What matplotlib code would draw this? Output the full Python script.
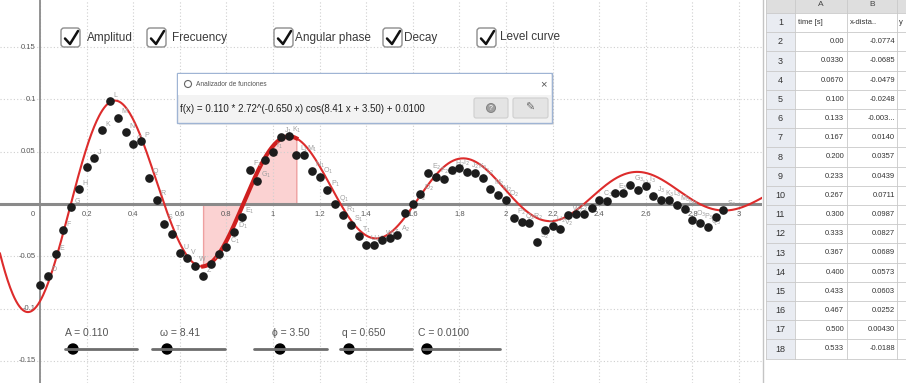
import numpy as np
import matplotlib
matplotlib.use("Agg")
import matplotlib.pyplot as plt
from matplotlib.patches import Rectangle, FancyBboxPatch, Circle

plt.rcParams['font.family'] = ['Liberation Sans', 'DejaVu Sans']

# fitted model parameters (slider values)
amp = 0.110
omega = 8.41
phase = 3.50
decay = 0.650
offset = 0.0100

# measured points: time [s] and x-distance [m]
time_s = [0.000, 0.033, 0.067, 0.100, 0.133, 0.167, 0.200, 0.233, 0.267, 0.300,
          0.333, 0.367, 0.400, 0.433, 0.467, 0.500, 0.533, 0.567, 0.600, 0.633,
          0.667, 0.700, 0.733, 0.767, 0.800, 0.833, 0.867, 0.900, 0.933, 0.967,
          1.000, 1.033, 1.067, 1.100, 1.133, 1.167, 1.200, 1.233, 1.267, 1.300,
          1.333, 1.367, 1.400, 1.433, 1.467, 1.500, 1.533, 1.567, 1.600, 1.633,
          1.667, 1.700, 1.733, 1.767, 1.800, 1.833, 1.867, 1.900, 1.933, 1.967,
          2.000, 2.033, 2.067, 2.100, 2.133, 2.167, 2.200, 2.233, 2.267, 2.300,
          2.333, 2.367, 2.400, 2.433, 2.467, 2.500, 2.533, 2.567, 2.600, 2.633,
          2.667, 2.700, 2.733, 2.767, 2.800, 2.833, 2.867, 2.900, 2.933]
x_dist = [-0.0774, -0.0685, -0.0479, -0.0248, -0.0030, 0.0140, 0.0357, 0.0439, 0.0711, 0.0987,
          0.0827, 0.0689, 0.0573, 0.0603, 0.0252, 0.0043, -0.0188, -0.029, -0.047, -0.052,
          -0.059, -0.069, -0.057, -0.048, -0.041, -0.027, -0.012, 0.033, 0.022, 0.042,
          0.050, 0.064, 0.065, 0.047, 0.047, 0.032, 0.026, 0.013, 0.000, -0.011,
          -0.020, -0.031, -0.039, -0.039, -0.034, -0.033, -0.030, -0.009, 0.000, 0.010,
          0.030, 0.026, 0.024, 0.033, 0.034, 0.031, 0.030, 0.025, 0.014, 0.009,
          0.004, -0.013, -0.017, -0.018, -0.036, -0.025, -0.021, -0.024, -0.011, -0.010,
          -0.010, -0.004, 0.004, 0.003, 0.011, 0.011, 0.018, 0.013, 0.017, 0.008,
          0.004, 0.004, -0.001, -0.005, -0.015, -0.018, -0.022, -0.012, -0.006]

# spreadsheet text as displayed (rows 2-18)
sheet_time = ["0.00", "0.0330", "0.0670", "0.100", "0.133", "0.167", "0.200", "0.233", "0.267",
              "0.300", "0.333", "0.367", "0.400", "0.433", "0.467", "0.500", "0.533"]
sheet_x = ["-0.0774", "-0.0685", "-0.0479", "-0.0248", "-0.003...", "0.0140", "0.0357", "0.0439",
           "0.0711", "0.0987", "0.0827", "0.0689", "0.0573", "0.0603", "0.0252", "0.00430", "-0.0188"]

x_ticks = [0.2, 0.4, 0.6, 0.8, 1.0, 1.2, 1.4, 1.6, 1.8, 2.0, 2.2, 2.4, 2.6, 2.8, 3.0]
x_tick_labels = ["0.2", "0.4", "0.6", "0.8", "1", "1.2", "1.4", "1.6", "1.8", "2",
                 "2.2", "2.4", "2.6", "2.8", "3"]
y_ticks = [0.15, 0.1, 0.05, -0.05, -0.1, -0.15]
y_tick_labels = ["0.15", "0.1", "0.05", "-0.05", "-0.1", "-0.15"]

checkbox_labels = ["Amplitud", "Frecuency", "Angular phase", "Decay", "Level curve"]
integral_from, integral_to = 0.7, 1.1

W, H = 906, 383
fig = plt.figure(figsize=(W / 100, H / 100), dpi=100)

# --- graphics view ---
plot_w = 762
ax = fig.add_axes([0, 0, plot_w / W, 1])
ax.set_xlim(-40 / 233, (plot_w - 40) / 233)
ax.set_ylim(-(H - 204) / 1045, 204 / 1045)
ax.set_xticks([0] + x_ticks)
ax.set_yticks(y_ticks + [0])
ax.grid(True, color='#cfcfcf', linestyle=(0, (1, 2)), lw=0.8)
ax.tick_params(length=0, labelbottom=False, labelleft=False)
for s in ax.spines.values():
    s.set_visible(False)
ax.axhline(0, color='#8a8a8a', lw=2.2, zorder=2)
ax.axvline(0, color='#8a8a8a', lw=1.3, zorder=2)

for t, lab in zip(x_ticks, x_tick_labels):
    ax.annotate(lab, (t, 0), xytext=(0, -5), textcoords='offset points',
                ha='center', va='top', fontsize=5.5, color='#5a5a5a')
ax.annotate("0", (0, 0), xytext=(-4, -5), textcoords='offset points',
            ha='right', va='top', fontsize=5.5, color='#5a5a5a')
for v, lab in zip(y_ticks, y_tick_labels):
    ax.annotate(lab, (0, v), xytext=(-3, 0), textcoords='offset points',
                ha='right', va='center', fontsize=5.5, color='#5a5a5a')

# fitted curve
xs = np.linspace(*ax.get_xlim(), 900)
ax.plot(xs, amp * np.exp(-decay * xs) * np.cos(omega * xs + phase) + offset,
        color='#dd2c2c', lw=1.5, zorder=3)

# integral area
xi = np.linspace(integral_from, integral_to, 200)
fi = amp * np.exp(-decay * xi) * np.cos(omega * xi + phase) + offset
ax.fill_between(xi, 0, fi, facecolor='#fbd2d2', edgecolor='#eea0a0', lw=1, zorder=1.5)
ax.plot(xi, fi, color='#cf1f1f', lw=3, zorder=3)

# data points with GeoGebra style names
ax.plot(time_s, x_dist, 'o', color='#1c1c1c', ms=5.2, zorder=4)
letters = "ABCDEFGHIJKLMNOPQRSTUVWZ"
for k, (t, v) in enumerate(zip(time_s, x_dist)):
    i = k + 2
    name = letters[i % 24] if i < 24 else f"{letters[i % 24]}$_{{{i // 24}}}$"
    ax.annotate(name, (t, v), xytext=(2.5, 3), textcoords='offset points',
                fontsize=5, color='#a0a0a0', zorder=3.5)

# --- overlay for widgets and spreadsheet (pixel coordinates) ---
ui = fig.add_axes([0, 0, 1, 1])
ui.set_xlim(0, W)
ui.set_ylim(H, 0)
ui.axis('off')
ui.patch.set_alpha(0)

# checkboxes
box_x = [61, 147, 274, 383, 477]
text_x = [87, 172, 295, 404, 500]
for bx, tx, lab in zip(box_x, text_x, checkbox_labels):
    ui.add_patch(FancyBboxPatch((bx, 28), 19, 19, boxstyle='round,pad=0,rounding_size=3',
                                fc='white', ec='#8d8d8d', lw=1))
    ui.plot([bx + 4, bx + 9, bx + 17], [38.5, 44, 31], color='#111111', lw=1.8,
            solid_capstyle='round', solid_joinstyle='round')
    ui.text(tx, 37.5, lab, fontsize=8.5, color='#3a3a3a', va='center')

# function analyzer dialog
ui.add_patch(Rectangle((179, 75), 375, 50, fc='#00000015', ec='none'))
ui.add_patch(Rectangle((177, 73), 375, 50, fc='#f3f3f3', ec='#9fb4d4', lw=1))
ui.add_patch(Rectangle((178, 74), 373, 21, fc='white', ec='none'))
ui.add_patch(Circle((188, 84), 3.5, fc='none', ec='#666666', lw=0.8))
ui.text(196, 84, "Analizador de funciones", fontsize=4.8, color='#555555', va='center')
ui.text(543, 84, "×", fontsize=8, color='#555555', ha='center', va='center')
formula = (f"f(x) = {amp:.3f} * 2.72^(-{decay:.3f} x) cos({omega:.2f} x + {phase:.2f})"
           f" + {offset:.4f}")
ui.text(180, 109, formula, fontsize=7, color='#222222', va='center')
for bx, bw in [(474, 34), (513, 35)]:
    ui.add_patch(FancyBboxPatch((bx, 98), bw, 20, boxstyle='round,pad=0,rounding_size=2',
                                fc='#e4e4e4', ec='#cfcfcf', lw=0.8))
ui.add_patch(Circle((491, 108), 4.5, fc='#a0a0a0', ec='#7a7a7a', lw=0.6))
ui.text(491, 108, "?", fontsize=5, color='white', ha='center', va='center')
ui.text(530, 108, "✎", fontsize=8, color='#666666', ha='center', va='center')

# sliders
slider_labels = [f"A = {amp:.3f}", f"ω = {omega:.2f}", f"ϕ = {phase:.2f}",
                 f"q = {decay:.3f}", f"C = {offset:.4f}"]
slider_geom = [(65, 65, 137, 73), (160, 152, 225, 167), (272, 254, 327, 280),
               (342, 340, 412, 349), (418, 423, 500, 427)]
for lab, (lx, x0, x1, kx) in zip(slider_labels, slider_geom):
    ui.text(lx, 333, lab, fontsize=7.5, color='#555555', va='center')
    ui.plot([x0, x1], [349, 349], color='#6d6d6d', lw=2, solid_capstyle='round')
    ui.add_patch(Circle((kx, 349), 5, color='black'))

# spreadsheet
ui.add_patch(Rectangle((763, 0), W - 763, H, fc='white', ec='none'))
ui.plot([763, 763], [0, H], color='#c4c4c4', lw=1)
row_h = 19.2
top = 13
n_rows = 18
bottom = top + n_rows * row_h
ui.add_patch(Rectangle((766, 0), W - 766, top, fc='#dedede', ec='none'))
ui.add_patch(Rectangle((766, top), 29, n_rows * row_h, fc='#e9ecf2', ec='none'))
for r in range(n_rows + 1):
    ui.plot([766, W], [top + r * row_h] * 2, color='#c9c9c9', lw=0.6)
for cx in [766, 795, 847, 897]:
    ui.plot([cx, cx], [0, bottom], color='#c9c9c9', lw=0.6)
ui.text(821, 5, "A", fontsize=6, color='#444444', ha='center', va='center')
ui.text(872, 5, "B", fontsize=6, color='#444444', ha='center', va='center')
for r in range(n_rows):
    yc = top + (r + 0.5) * row_h
    ui.text(780.5, yc, str(r + 1), fontsize=6.5, color='#333333', ha='center', va='center')
yc = top + 0.5 * row_h
ui.text(798, yc, "time [s]", fontsize=5.5, color='#333333', va='center')
ui.text(850, yc, "x-dista..", fontsize=5.5, color='#333333', va='center')
ui.text(899, yc, "y", fontsize=5.5, color='#333333', va='center')
for r, (tt, xx) in enumerate(zip(sheet_time, sheet_x)):
    yc = top + (r + 1.5) * row_h
    ui.text(844, yc, tt, fontsize=5.5, color='#333333', ha='right', va='center')
    ui.text(895, yc, xx, fontsize=5.5, color='#333333', ha='right', va='center')

fig.savefig("out.png", dpi=100)
